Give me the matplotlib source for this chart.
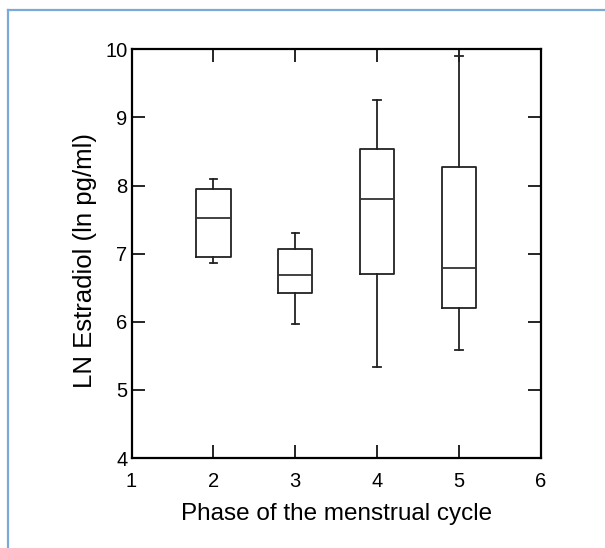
import matplotlib.pyplot as plt
from matplotlib.lines import Line2D

plt.rcParams['font.family'] = ['Liberation Sans', 'DejaVu Sans']

# Box summary per phase of the menstrual cycle (ln pg/ml)
phases = [2, 3, 4, 5]
whisker_lo = [6.87, 5.97, 5.33, 5.58]
q1 = [6.95, 6.42, 6.70, 6.20]
medians = [7.52, 6.68, 7.80, 6.79]
q3 = [7.95, 7.07, 8.53, 8.27]
whisker_hi = [8.10, 7.30, 9.25, 9.90]

xticks = [1, 2, 3, 4, 5, 6]
yticks = [4, 5, 6, 7, 8, 9, 10]

stats = []
for i in range(len(phases)):
    stats.append(dict(whislo=whisker_lo[i], q1=q1[i], med=medians[i],
                      q3=q3[i], whishi=whisker_hi[i], fliers=[]))

fig = plt.figure(figsize=(6.05, 5.48), dpi=100)
ax = fig.add_axes([0.2174, 0.1642, 0.6766, 0.7458])

line = dict(color='#222222', linewidth=1.3)
ax.bxp(stats, positions=phases, widths=0.42, showfliers=False,
       boxprops=line, whiskerprops=line, capprops=line,
       medianprops=dict(color='#333333', linewidth=1.3),
       capwidths=0.09, manage_ticks=False)

ax.set_xlim(1, 6)
ax.set_ylim(4, 10)
ax.set_xticks(xticks)
ax.set_yticks(yticks)
ax.tick_params(direction='in', length=9.5, width=1.2, labelsize=14.5,
               top=True, right=True, colors='black')
ax.tick_params(axis='x', pad=10)
ax.tick_params(axis='y', pad=3)
for s in ax.spines.values():
    s.set_linewidth(1.6)

ax.set_xlabel('Phase of the menstrual cycle', fontsize=17.5, labelpad=9)
ax.set_ylabel('LN Estradiol (ln pg/ml)', fontsize=18.5)
ax.yaxis.set_label_coords(-0.085, 0.483)

# light blue frame (top and left edges)
frame_c = '#7aaad8'
fig.add_artist(Line2D([8 / 605, 1], [1 - 10 / 548, 1 - 10 / 548],
                      transform=fig.transFigure, color=frame_c, linewidth=1.6))
fig.add_artist(Line2D([8 / 605, 8 / 605], [0, 1 - 10 / 548],
                      transform=fig.transFigure, color=frame_c, linewidth=1.6))

fig.savefig('out.png', dpi=100)
